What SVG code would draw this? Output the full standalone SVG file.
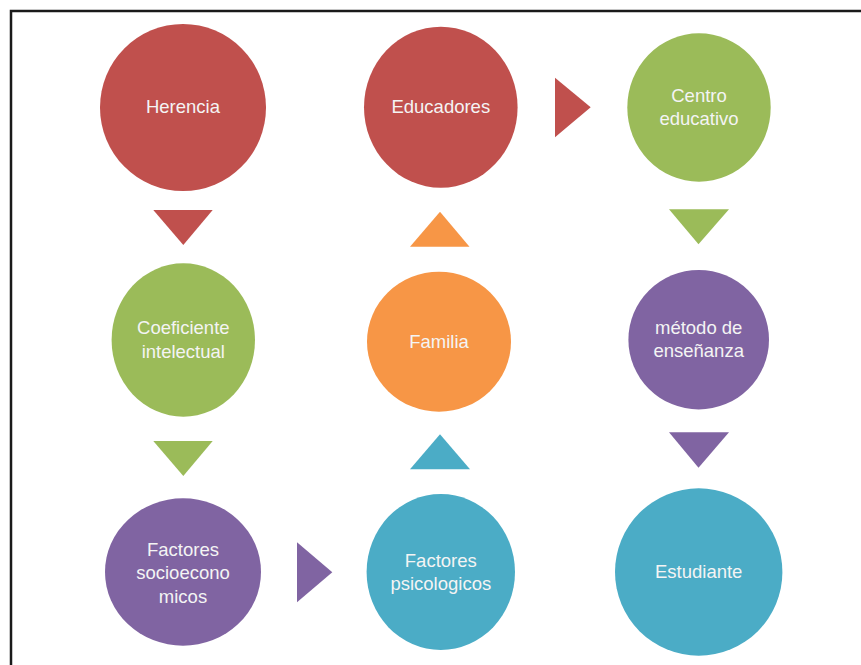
<svg xmlns="http://www.w3.org/2000/svg" width="861" height="665" viewBox="0 0 861 665">
<style>
.lbl{font-family:"Liberation Sans",Arial,sans-serif;font-size:18.5px;fill:#F4F4F4;text-anchor:middle}
.red{fill:#C0504D}.green{fill:#9BBB59}.purple{fill:#8064A2}.orange{fill:#F79646}.teal{fill:#4BACC6}
.frame{stroke:#1a1a1a;stroke-width:2.5;fill:none}
</style>
<rect width="861" height="665" fill="#ffffff"/>
<path class="frame" d="M11,665 V11 H861"/>
<g id="connectors">
<polygon class="red" points="153.3,210 212.7,210 183.3,245"/>
<polygon class="green" points="153.3,441 212.7,441 183.3,476"/>
<polygon class="purple" points="297,542.3 297,602.3 332.3,572.3"/>
<polygon class="teal" points="410,469.3 470,469.3 440,434.3"/>
<polygon class="orange" points="410,246.7 469.5,246.7 440,211.7"/>
<polygon class="red" points="555,77.7 555,137.3 590.7,107.3"/>
<polygon class="green" points="669,209.3 729,209.3 698.5,244.3"/>
<polygon class="purple" points="669,432.3 729,432.3 698.5,467.7"/>
</g>
<g id="herencia"><ellipse class="red" cx="183" cy="107.5" rx="83" ry="83.5"/><text class="lbl" x="183" y="113.3">Herencia</text></g>
<g id="coeficiente"><ellipse class="green" cx="183.3" cy="340" rx="71.7" ry="76.7"/><text class="lbl" x="183.3" y="334.3">Coeficiente</text><text class="lbl" x="183.3" y="357.7">intelectual</text></g>
<g id="socioeconomicos"><ellipse class="purple" cx="183" cy="572" rx="78" ry="73.7"/><text class="lbl" x="183" y="555.7">Factores</text><text class="lbl" x="183" y="579.3">socioecono</text><text class="lbl" x="183" y="602.7">micos</text></g>
<g id="psicologicos"><ellipse class="teal" cx="440.8" cy="572" rx="74.2" ry="78"/><text class="lbl" x="440.8" y="567.3">Factores</text><text class="lbl" x="440.8" y="590">psicologicos</text></g>
<g id="familia"><ellipse class="orange" cx="439" cy="341.7" rx="72" ry="70"/><text class="lbl" x="439" y="347.7">Familia</text></g>
<g id="educadores"><ellipse class="red" cx="440.8" cy="107.2" rx="76.8" ry="80.5"/><text class="lbl" x="440.8" y="113.3">Educadores</text></g>
<g id="centro"><ellipse class="green" cx="699" cy="107.5" rx="71.7" ry="74.2"/><text class="lbl" x="699" y="101.7">Centro</text><text class="lbl" x="699" y="125">educativo</text></g>
<g id="metodo"><ellipse class="purple" cx="698.7" cy="339.7" rx="70.3" ry="69.7"/><text class="lbl" x="698.7" y="334.3">método de</text><text class="lbl" x="698.7" y="356.7">enseñanza</text></g>
<g id="estudiante"><ellipse class="teal" cx="698.7" cy="572" rx="83.7" ry="83.7"/><text class="lbl" x="698.7" y="578.3">Estudiante</text></g>
</svg>
